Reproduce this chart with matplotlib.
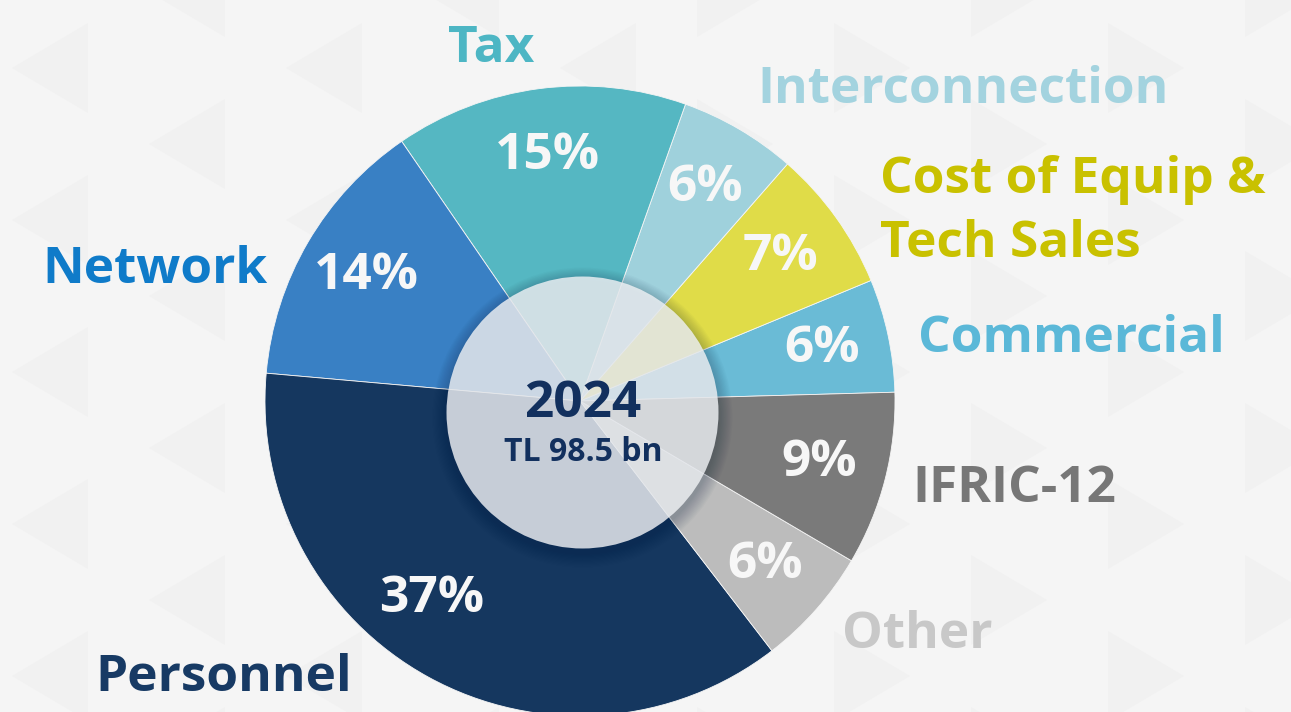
import numpy as np
import matplotlib.pyplot as plt
from matplotlib.patches import Circle, Polygon

W, H = 1291, 712
FONT = ['Open Sans', 'DejaVu Sans']

# shares (%) counter-clockwise from the right
cats = ['Commercial', 'Cost of Equip &\nTech Sales', 'Interconnection', 'Tax',
        'Network', 'Personnel', 'Other', 'IFRIC-12']
shares = [5.8, 7.3, 6.0, 15.0, 14.0, 36.8, 6.1, 8.9]
wedge_cols = ['#6abbd6', '#e0dc48', '#9fd1dc', '#55b7c2',
              '#3980c4', '#15375f', '#bcbcbc', '#7a7a7a']
label_cols = ['#5bb8d8', '#c9c100', '#a3d3df', '#4db6c4',
              '#0f7bc9', '#173a64', '#c8c8c8', '#777777']
# label anchor (left x, baseline y) in image pixels
label_pos = [(918, 352), (880, 193), (757, 103), (448, 62),
             (42, 283), (95, 691), (842, 648), (912, 502)]
year = '2024'
total = 'TL 98.5 bn'

fig = plt.figure(figsize=(W / 100, H / 100), dpi=100)
fig.patch.set_facecolor('#f5f5f5')
ax = fig.add_axes([0, 0, 1, 1])

# faint triangle pattern in the background
for col in range(10):
    for row in range(-1, 6):
        tx = 50 + col * 137
        ty = 68 + row * 152 + (col % 2) * 76
        if tx < W / 2:
            pts = [(tx - 38, ty), (tx + 38, ty - 45), (tx + 38, ty + 45)]
        else:
            pts = [(tx + 38, ty), (tx - 38, ty - 45), (tx - 38, ty + 45)]
        pts = [(x, H - y) for x, y in pts]
        ax.add_patch(Polygon(pts, closed=True, fc='#f1f1f1', ec='none', zorder=0))

cx, cy, R = 580, H - 401, 315
wedges, texts, autotexts = ax.pie(
    shares, colors=wedge_cols, startangle=1.6, counterclock=True,
    center=(cx, cy), radius=R, pctdistance=0.785,
    autopct=lambda p: '%d%%' % round(p),
    wedgeprops=dict(edgecolor='#f5f5f5', linewidth=0.6),
    textprops=dict(color='#f7f7f7', fontsize=37, fontweight='bold', family=FONT))
for w in wedges:
    w.set_zorder(2)
for t in autotexts:
    t.set_zorder(3)

# the big slice's label sits a little further round
w = wedges[5]
ang = np.deg2rad((w.theta1 + w.theta2) / 2 - 8)
autotexts[5].set_position((cx + 0.785 * R * np.cos(ang), cy + 0.785 * R * np.sin(ang)))

ax.set_xlim(0, W)
ax.set_ylim(0, H)
ax.set_aspect('equal')
ax.axis('off')

for name, (x, y), c in zip(cats, label_pos, label_cols):
    for k, line in enumerate(name.split('\n')):
        ax.text(x, H - y - 64 * k, line, color=c, fontsize=37, fontweight='bold',
                family=FONT, ha='left', va='baseline', zorder=5)

# centre disc with soft shadow
ccx, ccy, cr = 582.5, H - 412.5, 136
for i in range(12):
    ax.add_patch(Circle((ccx, ccy - 5), cr + 14 - i * 1.2, fc='#0b1e3a',
                        ec='none', alpha=0.025, zorder=4))
ax.add_patch(Circle((ccx, ccy), cr, fc='#f0f2f5', ec='none', alpha=0.82, zorder=4))
ax.text(583, H - 417, year, color='#12305e', fontsize=37, fontweight='bold',
        family=FONT, ha='center', va='baseline', zorder=6)
ax.text(583, H - 461, total, color='#12305e', fontsize=23, fontweight='bold',
        family=FONT, ha='center', va='baseline', zorder=6)

fig.savefig('out.png', dpi=100, facecolor=fig.get_facecolor())
